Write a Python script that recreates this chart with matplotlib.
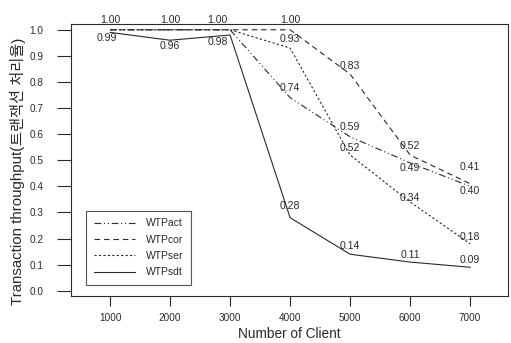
import matplotlib
matplotlib.use("Agg")
import matplotlib.pyplot as plt

plt.rcParams['font.family'] = ['Liberation Sans', 'Noto Sans CJK KR', 'DejaVu Sans']

clients = [1000, 2000, 3000, 4000, 5000, 6000, 7000]
series_names = ["WTPact", "WTPcor", "WTPser", "WTPsdt"]
wtp_act = [1.00, 1.00, 1.00, 0.74, 0.59, 0.49, 0.40]
wtp_cor = [1.00, 1.00, 1.00, 1.00, 0.83, 0.52, 0.41]
wtp_ser = [1.00, 1.00, 1.00, 0.93, 0.52, 0.34, 0.18]
wtp_sdt = [0.99, 0.96, 0.98, 0.28, 0.14, 0.11, 0.09]
y_ticks = [0.0, 0.1, 0.2, 0.3, 0.4, 0.5, 0.6, 0.7, 0.8, 0.9, 1.0]
x_ticks = [1000, 2000, 3000, 4000, 5000, 6000, 7000]
ylabel_latin = "Transaction throughput("
ylabel_korean = "트랜잭션 처리율)"
xlabel = "Number of Client"

# style: line styles and label offsets (points)
styles = {
    "WTPact": (0, (6, 2.5, 1, 2.5, 1, 2.5)),
    "WTPcor": (0, (5, 3.5)),
    "WTPser": (0, (2, 2)),
    "WTPsdt": "-",
}
offsets = {
    "WTPact": [(0, 7), (0, 7), (-9, 7), (0, 7), (0, 7), (0, -3.6), (0, -3)],
    "WTPcor": [(0, 7), (0, 7), (-9, 7), (0, 7), (0, 6), (0, 6.5), (0, 12)],
    "WTPser": [(0, 7), (0, 7), (-9, 7), (0, 6.5), (0, 5), (0, 3), (0, 5)],
    "WTPsdt": [(-2, -4), (0, -4), (-9, -5), (0, 8.5), (0, 6), (0, 5), (0, 5)],
}

data = {"WTPact": wtp_act, "WTPcor": wtp_cor, "WTPser": wtp_ser, "WTPsdt": wtp_sdt}

W, H = 511, 343
fig = plt.figure(figsize=(W/100, H/100), dpi=100)
ax = fig.add_axes([71/W, 1-296/H, (508-71)/W, (296-24.3)/H])

col = '#2a2a2a'
drawn = set()
for name in series_names:
    vals = data[name]
    ax.plot(clients, vals, linestyle=styles[name], color=col, linewidth=0.8, label=name)
    for x, v, off in zip(clients, vals, offsets[name]):
        key = (x, f"{v:.2f}", off)
        if key in drawn:
            continue
        drawn.add(key)
        ax.annotate(f"{v:.2f}", (x, v), xytext=off, textcoords='offset points',
                    ha='center', va='center', fontsize=7.6, color=col)

ax.set_xlim(350, 7630)
ax.set_ylim(-0.02, 1.021)
ax.set_xticks(x_ticks)
ax.set_xticklabels([str(t) for t in x_ticks])
ax.set_yticks(y_ticks)
ax.set_yticklabels([f"{t:.1f}" for t in y_ticks])
ax.tick_params(axis='y', length=10, width=0.8, pad=10, labelsize=7.2, colors=col)
ax.tick_params(axis='x', length=7, width=0.8, pad=5, labelsize=7.2, colors=col)
for sp in ax.spines.values():
    sp.set_linewidth(0.8)
    sp.set_color(col)

ax.set_xlabel(xlabel, fontsize=9.8, color=col, labelpad=3)

# y label in two pieces (Latin + Korean), stacked along the rotated baseline
t1 = fig.text(18/W, 1-305/H, ylabel_latin, rotation=90, ha='center', va='bottom',
              fontsize=10.8, color=col)
renderer = fig.canvas.get_renderer()
bb = t1.get_window_extent(renderer)
top_px = bb.y1 + 1
fig.text(18/W, top_px/H, ylabel_korean, rotation=90, ha='center', va='bottom',
         fontsize=11, color=col)

leg = ax.legend(loc='lower left', bbox_to_anchor=(15/437, 11/272), borderaxespad=0,
                fontsize=7.5, frameon=True, fancybox=False, handlelength=4.0,
                handletextpad=1.0, labelspacing=0.6, borderpad=0.75)
leg.get_frame().set_edgecolor(col)
leg.get_frame().set_linewidth(0.8)
for t in leg.get_texts():
    t.set_color(col)

fig.savefig("out.png", dpi=100)
